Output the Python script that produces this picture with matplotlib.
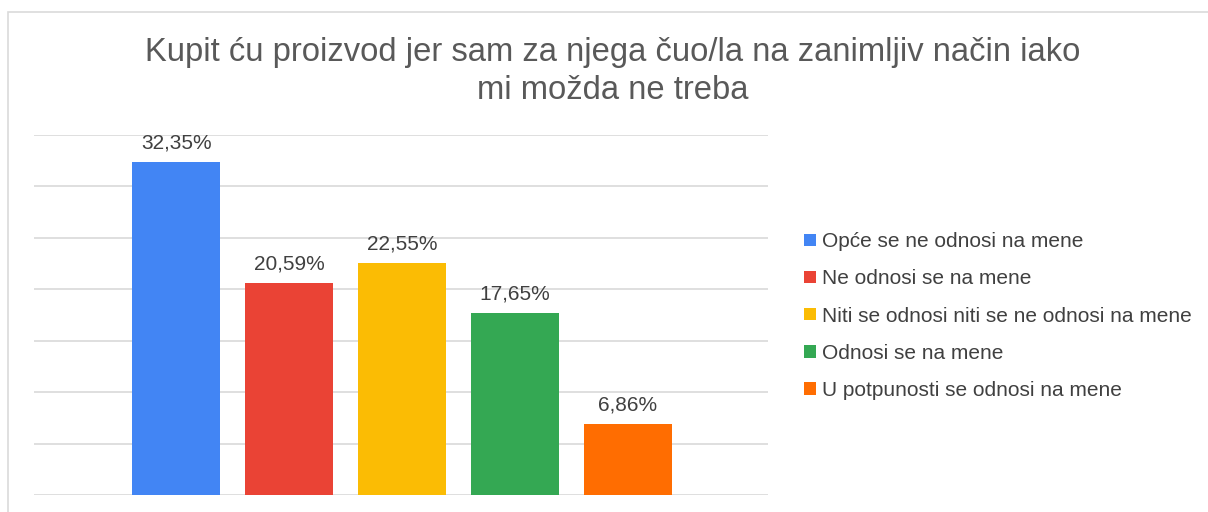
import matplotlib.pyplot as plt
from matplotlib.patches import Patch, Rectangle

plt.rcParams['font.family'] = ['Liberation Sans', 'DejaVu Sans']

naslov = "Kupit ću proizvod jer sam za njega čuo/la na zanimljiv način iako\nmi možda ne treba"
odgovori = ["Opće se ne odnosi na mene",
            "Ne odnosi se na mene",
            "Niti se odnosi niti se ne odnosi na mene",
            "Odnosi se na mene",
            "U potpunosti se odnosi na mene"]
postoci = [32.35, 20.59, 22.55, 17.65, 6.86]
oznake = ["32,35%", "20,59%", "22,55%", "17,65%", "6,86%"]
boje = ["#4285F4", "#EA4335", "#FBBC04", "#34A853", "#FF6D01"]

fig = plt.figure(figsize=(12.08, 5.12), dpi=100)
ax = fig.add_axes([34 / 1208, 1 - 495 / 512, (768 - 34) / 1208, (495 - 135) / 512])

# okvir grafa (samo lijevi i gornji rub se vidi)
fig.patches.append(Rectangle((8 / 1208, -0.1), 1.2, 1 - 12 / 512 + 0.1, transform=fig.transFigure,
                             fill=False, edgecolor="#dadada", linewidth=1.2))

x = list(range(len(postoci)))
ax.bar(x, postoci, width=0.78, color=boje, zorder=2)
for i in x:
    ax.text(i, postoci[i] + 0.95, oznake[i], ha='center', va='bottom', fontsize=15, color="#404040")

ax.set_xlim(-1.26, 5.24)
ax.set_ylim(0, 35)
ax.set_yticks(range(0, 36, 5))
ax.yaxis.grid(True, color="#dcdcdc", linewidth=1.3, zorder=0)
ax.set_yticklabels([])
ax.set_xticks([])
ax.tick_params(length=0)
for s in ax.spines.values():
    s.set_visible(False)

fig.text(613 / 1208, 1 - 71.5 / 512, naslov, ha='center', va='center', fontsize=23.6,
         color="#595959", linespacing=1.3)

rucke = [Patch(facecolor=b, edgecolor='none') for b in boje]
fig.legend(rucke, odgovori, loc='center left', bbox_to_anchor=(796 / 1208, 1 - 316 / 512),
           frameon=False, fontsize=15, labelcolor="#404040", handlelength=0.55, handleheight=0.55,
           handletextpad=0.3, labelspacing=0.87, borderaxespad=0)

fig.savefig("out.png", dpi=100)
